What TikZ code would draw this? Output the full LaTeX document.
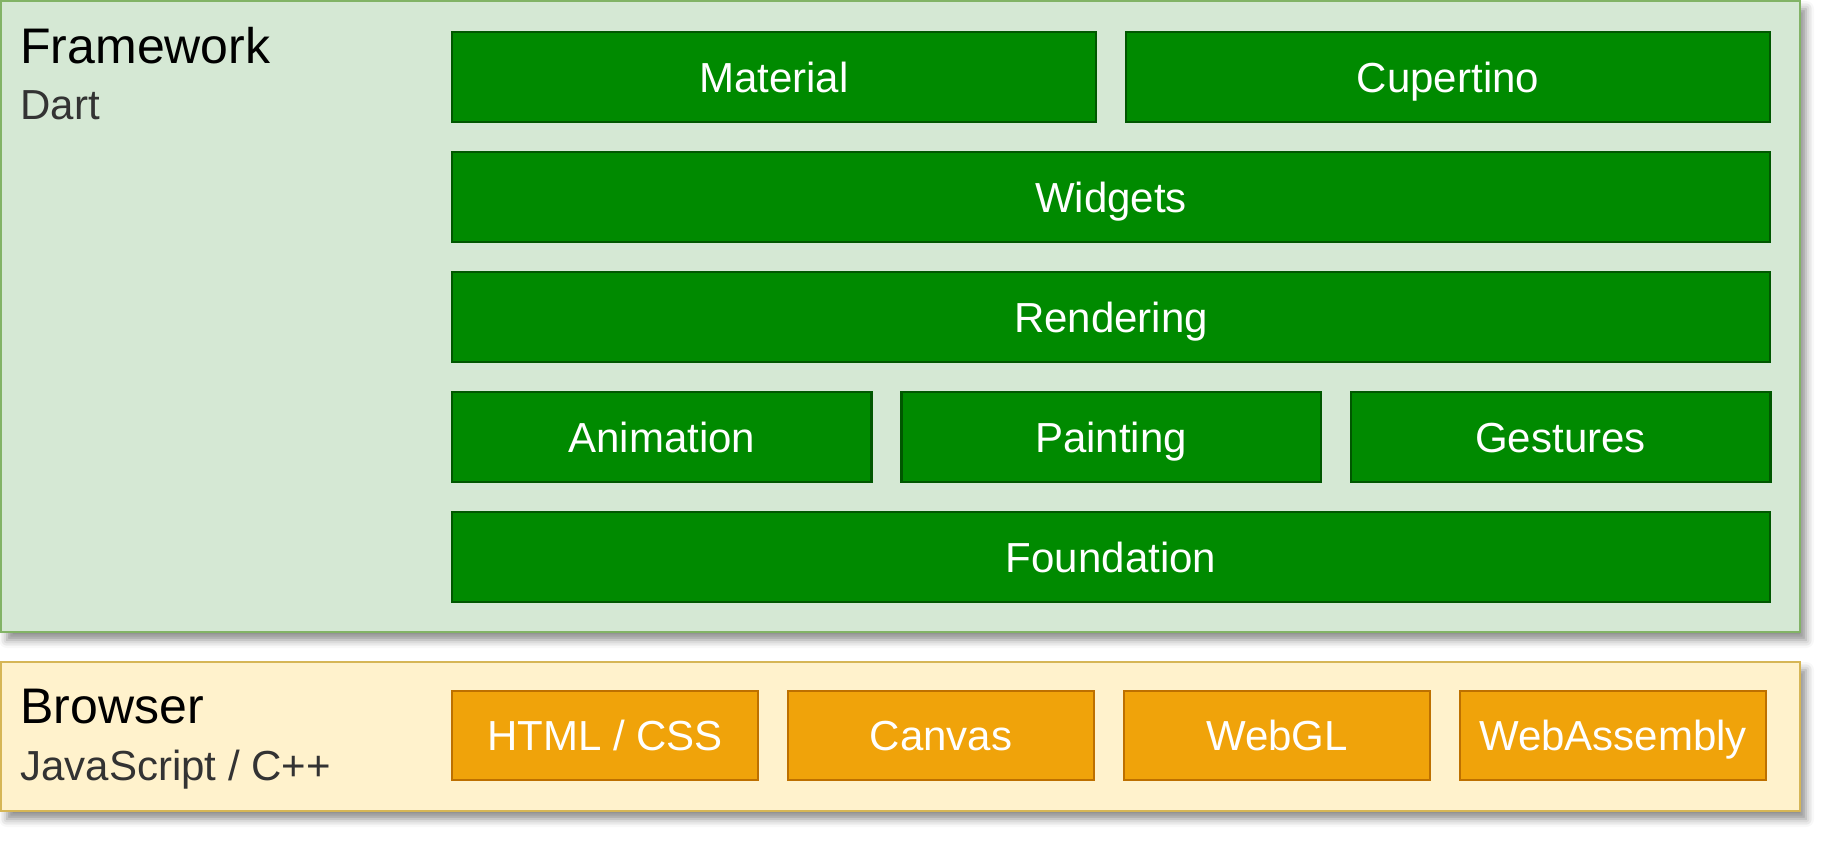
\documentclass[tikz,border=0pt]{standalone}
\usepackage{fontspec}
\setmainfont{Liberation Sans}
\usetikzlibrary{positioning}
\usetikzlibrary{shadows.blur}
\definecolor{mgreen}{HTML}{008A00}
\definecolor{mgreenline}{HTML}{005700}
\definecolor{mlight}{HTML}{D5E8D4}
\definecolor{mlightline}{HTML}{82B366}
\definecolor{myellow}{HTML}{FFF2CC}
\definecolor{myellowline}{HTML}{D6B656}
\definecolor{morange}{HTML}{F0A30A}
\definecolor{morangeline}{HTML}{BD7000}
\definecolor{mtext}{HTML}{333333}

\tikzset{
  panel/.style={draw, line width=1.3pt, inner sep=0pt, outer sep=0pt, anchor=north west, minimum width=899.5pt,
    blur shadow={shadow xshift=3pt, shadow yshift=-4pt, shadow blur radius=4pt, shadow opacity=45}},
  layer/.style={draw=mgreenline, fill=mgreen, line width=1.3pt, inner sep=0pt, outer sep=0pt, anchor=north west,
    minimum height=45pt, text=white, font=\fontsize{21}{25}\selectfont, text height=15pt, text depth=0pt},
  api/.style={draw=morangeline, fill=morange, line width=1.3pt, inner sep=0pt, outer sep=0pt, anchor=north west,
    minimum height=44.5pt, minimum width=153pt, text=white, font=\fontsize{21}{25}\selectfont,
    text height=15pt, text depth=0pt},
  title/.style={anchor=base west, inner sep=0pt, font=\fontsize{25}{30}\selectfont},
  subtitle/.style={anchor=base west, inner sep=0pt, text=mtext, font=\fontsize{21}{25}\selectfont}
}

\begin{document}
\begin{tikzpicture}[x=0.5pt, y=-0.5pt]
  \useasboundingbox (0, 0) rectangle (1836, 846);

  % framework
  \node [panel, fill=mlight, draw=mlightline, minimum height=315.5pt] (framework) at (1, 1) {};
  \node [title] (fwtitle) at (20, 63) {Framework};
  \node [subtitle] (fwlang) at (20, 119) {Dart};

  \node [layer, minimum width=322pt] (material) at (452, 32) {Material};
  \node [layer, minimum width=322pt, right=15pt of material] (cupertino) {Cupertino};
  \node [layer, minimum width=659pt, below=15pt of material.south west, anchor=north west] (widgets) {Widgets};
  \node [layer, minimum width=659pt, below=15pt of widgets.south west, anchor=north west] (rendering) {Rendering};
  \node [layer, minimum width=209.7pt, below=15pt of rendering.south west, anchor=north west] (animation) {Animation};
  \node [layer, minimum width=209.7pt, right=15pt of animation] (painting) {Painting};
  \node [layer, minimum width=209.7pt, right=15pt of painting] (gestures) {Gestures};
  \node [layer, minimum width=659pt, below=15pt of animation.south west, anchor=north west] (foundation) {Foundation};

  % browser
  \node [panel, fill=myellow, draw=myellowline, minimum height=74.5pt] (browser) at (1, 662) {};
  \node [title] (brtitle) at (20, 723) {Browser};
  \node [subtitle] (brlang) at (20, 780) {JavaScript / C++};

  \node [api] (html) at (452, 691) {HTML / CSS};
  \node [api, right=15pt of html] (canvas) {Canvas};
  \node [api, right=15pt of canvas] (webgl) {WebGL};
  \node [api, right=15pt of webgl] (wasm) {WebAssembly};
\end{tikzpicture}
\end{document}
